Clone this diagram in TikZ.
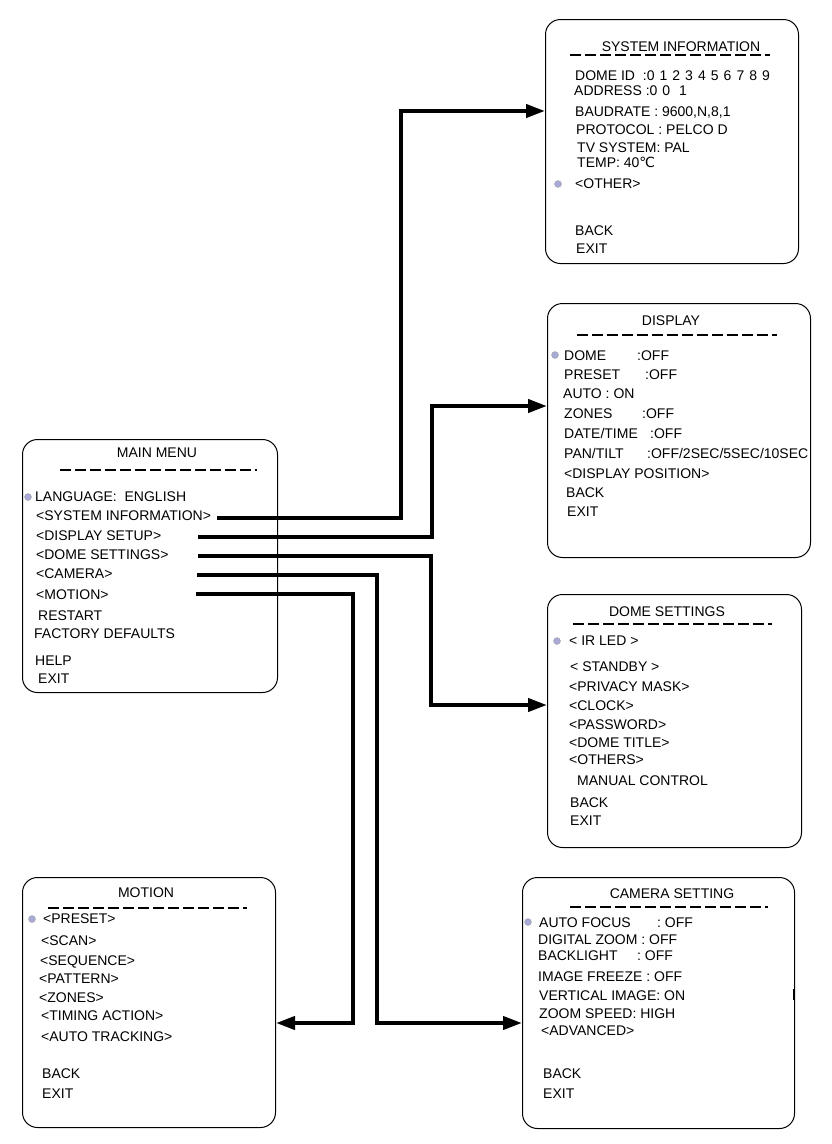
\documentclass[tikz,border=0pt]{standalone}
\usepackage{fontspec}
\setmainfont{Liberation Sans}
\newfontfamily\dejavu{DejaVu Sans}
\usetikzlibrary{arrows.meta}
\newcommand\menufont{\fontsize{14pt}{16pt}\selectfont}
\newcommand\spc[1]{{\addfontfeature{LetterSpace=36}#1}}
\newcommand\lab[2]{\hbox to #1pt{#2\hfil}}
\begin{document}
\begin{tikzpicture}[x=1pt,y=-1pt,
  menubox/.style={draw, line width=1pt, rounded corners=15pt, anchor=north west, inner sep=0},
  tx/.style={anchor=base west, inner sep=0, font=\menufont},
  tt/.style={anchor=base, inner sep=0, font=\menufont},
  sep/.style={line width=1.4pt, dash pattern=on 11pt off 4pt},
  link/.style={line width=4pt},
  tip/.style={-{Triangle[length=19pt,width=13pt]}},
  cursor/.style={circle, fill=blue!35!gray!50, draw=gray!70, line width=0.4pt, minimum size=7pt, inner sep=0}]
\useasboundingbox (0,0) rectangle (831,1144);

% ---------- MAIN MENU ----------
\node[menubox, minimum width=255pt, minimum height=253pt] (mainbox) at (22,439) {};
\node[tt] (mtitle) at (157,457) {MAIN MENU};
\draw[sep] (60,470) -- (257,470);
\node[cursor] (mcur) at (28,497) {};
\node[tx] (m1) at (35,501) {LANGUAGE:\ \ ENGLISH};
\node[tx] (m2) at (36,520) {<SYSTEM INFORMATION>};
\node[tx] (m3) at (36,540) {<DISPLAY SETUP>};
\node[tx] (m4) at (36,559) {<DOME SETTINGS>};
\node[tx] (m5) at (36,578) {<CAMERA>};
\node[tx] (m6) at (36,599) {<MOTION>};
\node[tx] (m7) at (38,620) {RESTART};
\node[tx] (m8) at (34,638) {FACTORY DEFAULTS};
\node[tx] (m9) at (35,665) {HELP};
\node[tx] (m10) at (38,683) {EXIT};

% ---------- SYSTEM INFORMATION ----------
\node[menubox, minimum width=253pt, minimum height=244pt] (sysbox) at (545,19) {};
\node[tt] (stitle) at (681,51) {SYSTEM INFORMATION};
\draw[sep] (570,55) -- (770,55);
\node[tx] (s1) at (575,80) {DOME ID\ \ :\spc{0123456789}};
\node[tx] (s2) at (574,95) {ADDRESS :\spc{00 1}};
\node[tx] (s3) at (575,116) {BAUDRATE : 9600,N,8,1};
\node[tx] (s4) at (576,134) {PROTOCOL : PELCO D};
\node[tx] (s5) at (577,152) {TV SYSTEM: PAL};
\node[tx] (s6) at (577,167) {TEMP: 40{\dejavu ℃}};
\node[cursor] (scur) at (558,184) {};
\node[tx] (s7) at (575,188) {<OTHER>};
\node[tx] (s8) at (575,235) {BACK};
\node[tx] (s9) at (576,253) {EXIT};

% ---------- DISPLAY ----------
\node[menubox, minimum width=263pt, minimum height=254pt] (dispbox) at (547,303) {};
\node[tt] (dtitle) at (671,325) {DISPLAY};
\draw[sep] (577,335) -- (777,335);
\node[cursor] (dcur) at (555,355) {};
\node[tx] (d1) at (564,360) {\lab{73}{DOME}:OFF};
\node[tx] (d2) at (564,379) {\lab{81}{PRESET}:OFF};
\node[tx] (d3) at (563,398) {AUTO : ON};
\node[tx] (d4) at (564,418) {\lab{78}{ZONES}:OFF};
\node[tx] (d5) at (564,438) {\lab{86}{DATE/TIME}:OFF};
\node[tx] (d6) at (564,458) {\lab{83}{PAN/TILT}:OFF/2SEC/5SEC/10SEC};
\node[tx] (d7) at (564,478) {<DISPLAY POSITION>};
\node[tx] (d8) at (566,497) {BACK};
\node[tx] (d9) at (567,516) {EXIT};

% ---------- DOME SETTINGS ----------
\node[menubox, minimum width=254pt, minimum height=253pt] (domebox) at (547,594) {};
\node[tt] (otitle) at (667,616) {DOME SETTINGS};
\draw[sep] (573,624) -- (772,624);
\node[cursor] (ocur) at (557,641) {};
\node[tx] (o1) at (569,645) {< IR LED >};
\node[tx] (o2) at (570,671) {< STANDBY >};
\node[tx] (o3) at (569,691) {<PRIVACY MASK>};
\node[tx] (o4) at (569,710) {<CLOCK>};
\node[tx] (o5) at (569,729) {<PASSWORD>};
\node[tx] (o6) at (569,747) {<DOME TITLE>};
\node[tx] (o7) at (569,764) {<OTHERS>};
\node[tx] (o8) at (577,785) {MANUAL CONTROL};
\node[tx] (o9) at (570,807) {BACK};
\node[tx] (o10) at (570,825) {EXIT};

% ---------- CAMERA SETTING ----------
\node[menubox, minimum width=272pt, minimum height=251pt] (cambox) at (522,877) {};
\node[tt] (ctitle) at (672,898) {CAMERA SETTING};
\draw[sep] (570,907) -- (768,907);
\node[cursor] (ccur) at (528,922) {};
\node[tx] (c1) at (539,927) {\lab{118}{AUTO FOCUS}:\ OFF};
\node[tx] (c2) at (538,944) {DIGITAL ZOOM : OFF};
\node[tx] (c3) at (538,960) {\lab{99}{BACKLIGHT}:\ OFF};
\node[tx] (c4) at (538,981) {IMAGE FREEZE : OFF};
\node[tx] (c5) at (539,1000) {VERTICAL IMAGE: ON};
\node[tx] (c6) at (539,1018) {ZOOM SPEED: HIGH};
\node[tx] (c7) at (541,1035) {<ADVANCED>};
\node[tx] (c8) at (543,1078) {BACK};
\node[tx] (c9) at (543,1098) {EXIT};
\draw[line width=2.5pt] ([xshift=-1pt]cambox.east |- 0,989) -- ([xshift=-1pt]cambox.east |- 0,1000);

% ---------- MOTION ----------
\node[menubox, minimum width=253pt, minimum height=250pt] (motbox) at (22,877) {};
\node[tt] (ttitle) at (146,897) {MOTION};
\draw[sep] (48,908) -- (247,908);
\node[cursor] (tcur) at (32,919) {};
\node[tx] (t1) at (43,923) {<PRESET>};
\node[tx] (t2) at (41,945) {<SCAN>};
\node[tx] (t3) at (40,965) {<SEQUENCE>};
\node[tx] (t4) at (39,983) {<PATTERN>};
\node[tx] (t5) at (39,1002) {<ZONES>};
\node[tx] (t6) at (41,1020) {<TIMING ACTION>};
\node[tx] (t7) at (41,1041) {<AUTO TRACKING>};
\node[tx] (t8) at (42,1078) {BACK};
\node[tx] (t9) at (42,1098) {EXIT};

% ---------- CONNECTORS ----------
\coordinate (a1) at (217,518);
\coordinate (a2) at (198,537);
\coordinate (a3) at (198,556);
\coordinate (a4) at (197,575);
\coordinate (a5) at (196,594);
\draw[link, tip] (a1) -| (401,111) -- (sysbox.west |- 0,111);
\draw[link, tip] (a2) -| (432,406) -- (dispbox.west |- 0,406);
\draw[link, tip] (a3) -| (431,705) -- (domebox.west |- 0,705);
\draw[link, tip] (a4) -| (377,1023) -- (cambox.west |- 0,1023);
\draw[link, tip] (a5) -| (353,1023) -- (motbox.east |- 0,1023);
\end{tikzpicture}
\end{document}
